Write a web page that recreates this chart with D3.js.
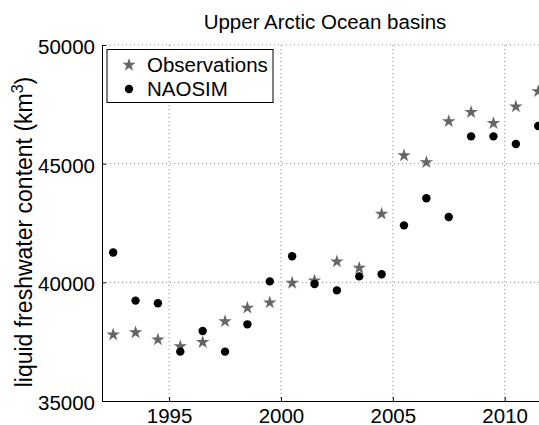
<!DOCTYPE html>
<html>
<head>
<meta charset="utf-8">
<script src="https://cdn.jsdelivr.net/npm/d3@7"></script>
<style>
  html, body { margin: 0; padding: 0; background: #fff; }
  svg { display: block; }
  text { font-family: "Liberation Sans", Arial, Helvetica, sans-serif; fill: #000; }
</style>
</head>
<body>
<svg id="chart" width="539" height="425"></svg>
<script>
// ---- data ----
const years = [1992.5, 1993.5, 1994.5, 1995.5, 1996.5, 1997.5, 1998.5, 1999.5, 2000.5, 2001.5,
               2002.5, 2003.5, 2004.5, 2005.5, 2006.5, 2007.5, 2008.5, 2009.5, 2010.5, 2011.5];
const observations = [37820, 37910, 37610, 37320, 37500, 38380, 38950, 39170, 40000, 40100,
                      40900, 40630, 42910, 45370, 45080, 46810, 47190, 46730, 47430, 48070];
const naosim = [41260, 39230, 39120, 37080, 37950, 37080, 38230, 40040, 41100, 39930,
                39660, 40250, 40340, 42400, 43540, 42750, 46150, 46150, 45830, 46590];
const xTicks = [1995, 2000, 2005, 2010];
const yTicks = [35000, 40000, 45000, 50000];
const seriesNames = ["Observations", "NAOSIM"];
const titleText = "Upper Arctic Ocean basins";

(function () {
// ---- layout ----
const svg = d3.select("#chart");
const pLeft = 102, pTop = 45, pBottom = 401;
const x = d3.scaleLinear().domain([1992, 2012]).range([pLeft, pLeft + 20 * 22.37]);
const y = d3.scaleLinear().domain([35000, 50000]).range([pBottom, pTop]);
const pRight = x(2012);

const starColor = "#666666";
const fs = 20.5;

// grid
const grid = svg.append("g");
grid.selectAll("line.gx").data(xTicks).join("line")
  .attr("x1", d => x(d)).attr("x2", d => x(d))
  .attr("y1", pTop).attr("y2", pBottom)
  .attr("stroke", "#8a8a8a").attr("stroke-width", 1).attr("stroke-dasharray", "1,3");
grid.selectAll("line.gy").data(yTicks.filter(d => d > 35000)).join("line")
  .attr("x1", pLeft).attr("x2", pRight)
  .attr("y1", d => y(d)).attr("y2", d => y(d))
  .attr("stroke", "#8a8a8a").attr("stroke-width", 1).attr("stroke-dasharray", "1,3");

// axes
const xAxis = d3.axisBottom(x).tickValues(xTicks).tickFormat(d3.format("d")).tickSizeInner(-4).tickSizeOuter(0).tickPadding(7);
const gx = svg.append("g").attr("transform", `translate(0,${pBottom})`).call(xAxis);
gx.select(".domain").attr("stroke", "#000");
gx.selectAll(".tick line").attr("stroke", "#000");
gx.selectAll(".tick text").attr("font-size", fs).attr("font-family", "Liberation Sans, Arial, sans-serif").attr("fill", "#000");

const yAxis = d3.axisLeft(y).tickValues(yTicks).tickFormat(d3.format("d")).tickSizeInner(-4).tickSizeOuter(0).tickPadding(7);
const gy = svg.append("g").attr("transform", `translate(${pLeft},0)`).call(yAxis);
gy.select(".domain").attr("stroke", "#000");
gy.selectAll(".tick line").attr("stroke", "#000");
gy.selectAll(".tick text").attr("font-size", fs).attr("font-family", "Liberation Sans, Arial, sans-serif").attr("fill", "#000").attr("dy", "0.42em");

// title
svg.append("text").attr("x", 325).attr("y", 29)
  .attr("text-anchor", "middle").attr("font-size", 20.5).text(titleText);

// y label
const yl = svg.append("text")
  .attr("transform", `translate(31.5,232) rotate(-90)`)
  .attr("text-anchor", "middle").attr("font-size", 23);
yl.append("tspan").text("liquid freshwater content (km");
yl.append("tspan").attr("font-size", 16).attr("dy", -9).text("3");
yl.append("tspan").attr("dy", 9).text(")");

// marks
const star = d3.symbol().type(d3.symbolStar).size(56);
const obsData = years.map((yr, i) => ({ x: yr, y: observations[i] }));
const naoData = years.map((yr, i) => ({ x: yr, y: naosim[i] }));

svg.append("g").selectAll("path").data(obsData).join("path")
  .attr("d", star)
  .attr("transform", d => `translate(${x(d.x)},${y(d.y) + 0.6})`)
  .attr("fill", starColor);

svg.append("g").selectAll("circle").data(naoData).join("circle")
  .attr("cx", d => x(d.x)).attr("cy", d => y(d.y)).attr("r", 4.2)
  .attr("fill", "#000");

// legend
const lg = svg.append("g");
lg.append("rect").attr("x", 107).attr("y", 49.5).attr("width", 166).attr("height", 53)
  .attr("fill", "#fff").attr("stroke", "#000").attr("stroke-width", 1);
lg.append("path").attr("d", star).attr("transform", "translate(129,65)").attr("fill", starColor);
lg.append("circle").attr("cx", 129).attr("cy", 89).attr("r", 4.2).attr("fill", "#000");
lg.append("text").attr("x", 147).attr("y", 72).attr("font-size", fs).text(seriesNames[0]);
lg.append("text").attr("x", 147).attr("y", 96).attr("font-size", fs).text(seriesNames[1]);
})();
</script>
</body>
</html>
